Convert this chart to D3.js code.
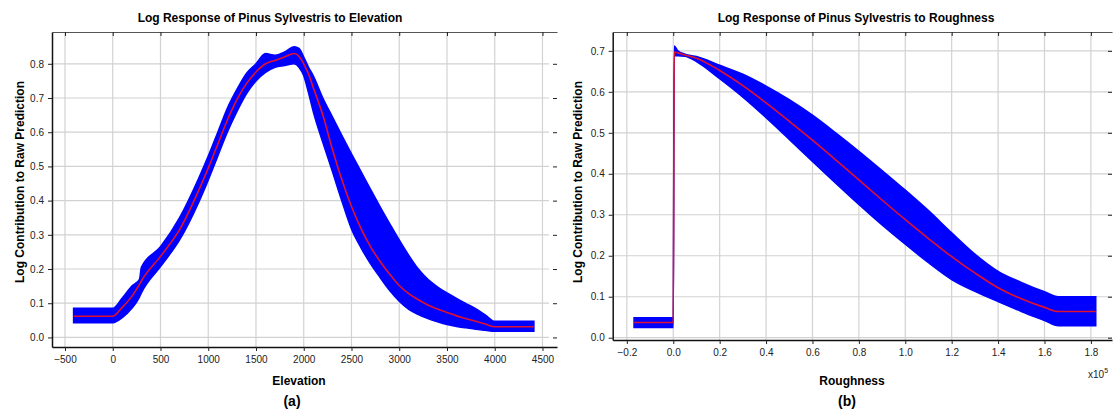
<!DOCTYPE html>
<html>
<head>
<meta charset="utf-8">
<script src="https://cdnjs.cloudflare.com/ajax/libs/d3/7.8.5/d3.min.js"></script>
<style>
  body { margin: 0; background: #fff; }
  svg { font-family: "Liberation Sans", Arial, sans-serif; }
  .tick text { font-size: 10px; fill: #222; }
  .tick line { stroke: #222; }
</style>
</head>
<body>
<svg width="1115" height="410"></svg>
<script>
// ---- panel (a): elevation ----
var elev      = [-410, 0, 100, 200, 280, 300, 500, 700, 900, 1000, 1100, 1200, 1300, 1400, 1500, 1600, 1700, 1800, 1900, 1950, 2000, 2050, 2100, 2200, 2300, 2400, 2500, 2600, 2700, 2800, 2900, 3000, 3100, 3200, 3300, 3400, 3500, 3600, 3700, 3800, 3900, 4000, 4410];
var elevMean  = [0.062, 0.062, 0.088, 0.12, 0.155, 0.165, 0.237, 0.315, 0.43, 0.495, 0.565, 0.635, 0.695, 0.742, 0.776, 0.80, 0.81, 0.82, 0.83, 0.822, 0.80, 0.77, 0.73, 0.65, 0.55, 0.46, 0.383, 0.318, 0.265, 0.222, 0.185, 0.152, 0.128, 0.11, 0.095, 0.083, 0.073, 0.063, 0.055, 0.047, 0.039, 0.031, 0.031];
var elevLow   = [0.043, 0.043, 0.058, 0.085, 0.118, 0.13, 0.207, 0.285, 0.395, 0.46, 0.53, 0.60, 0.66, 0.712, 0.75, 0.775, 0.79, 0.795, 0.80, 0.79, 0.765, 0.715, 0.66, 0.57, 0.485, 0.398, 0.317, 0.262, 0.215, 0.175, 0.137, 0.106, 0.082, 0.067, 0.055, 0.046, 0.038, 0.032, 0.028, 0.024, 0.021, 0.018, 0.018];
var elevHigh  = [0.085, 0.085, 0.115, 0.15, 0.17, 0.205, 0.265, 0.35, 0.465, 0.53, 0.60, 0.67, 0.725, 0.772, 0.80, 0.83, 0.825, 0.835, 0.85, 0.845, 0.82, 0.79, 0.765, 0.70, 0.645, 0.59, 0.537, 0.485, 0.433, 0.382, 0.333, 0.285, 0.24, 0.2, 0.17, 0.148, 0.13, 0.114, 0.099, 0.084, 0.066, 0.047, 0.047];
var elevTicks = [-500, 0, 500, 1000, 1500, 2000, 2500, 3000, 3500, 4000, 4500];
var elevYTicks = [0, 0.1, 0.2, 0.3, 0.4, 0.5, 0.6, 0.7, 0.8];

// ---- panel (b): roughness (x10^5) ----
var rough      = [-0.169, 0, 0.004, 0.02, 0.05, 0.1, 0.2, 0.3, 0.4, 0.5, 0.6, 0.7, 0.8, 0.9, 1.0, 1.1, 1.2, 1.3, 1.4, 1.5, 1.6, 1.66, 1.821];
var roughMean  = [0.037, 0.037, 0.697, 0.695, 0.69, 0.682, 0.652, 0.615, 0.573, 0.528, 0.482, 0.434, 0.385, 0.336, 0.288, 0.242, 0.198, 0.158, 0.122, 0.095, 0.074, 0.064, 0.064];
var roughLow   = [0.025, 0.025, 0.688, 0.688, 0.687, 0.674, 0.632, 0.587, 0.537, 0.484, 0.43, 0.377, 0.325, 0.275, 0.228, 0.183, 0.142, 0.113, 0.088, 0.064, 0.042, 0.029, 0.029];
var roughHigh  = [0.049, 0.049, 0.712, 0.70, 0.692, 0.686, 0.665, 0.643, 0.614, 0.581, 0.543, 0.50, 0.455, 0.408, 0.36, 0.31, 0.256, 0.204, 0.162, 0.135, 0.112, 0.10, 0.10];
var roughTicks = [-0.2, 0, 0.2, 0.4, 0.6, 0.8, 1.0, 1.2, 1.4, 1.6, 1.8];
var roughYTicks = [0, 0.1, 0.2, 0.3, 0.4, 0.5, 0.6, 0.7];

var svg = d3.select("svg");

function panel(p) {
  var x = d3.scaleLinear().domain(p.xDomain).range([p.left, p.right]);
  var y = d3.scaleLinear().domain(p.yDomain).range([p.bottom, p.top]);
  var g = svg.append("g");

  // griglia
  g.selectAll("line.vgrid").data(p.xTicks).enter().append("line")
    .attr("x1", d => x(d)).attr("x2", d => x(d))
    .attr("y1", p.top).attr("y2", p.bottom)
    .style("stroke", "#d2d2d2").style("stroke-width", 1.2);
  g.selectAll("line.hgrid").data(p.yTicks).enter().append("line")
    .attr("x1", p.left).attr("x2", p.gridRight)
    .attr("y1", d => y(d)).attr("y2", d => y(d))
    .style("stroke", "#d2d2d2").style("stroke-width", 1.2);

  // banda blu + media rossa
  var rows = p.xs.map((v, i) => ({x: v, m: p.mean[i], lo: p.low[i], hi: p.high[i]}));
  var area = d3.area().curve(d3.curveMonotoneX)
    .x(d => x(d.x)).y0(d => y(d.lo)).y1(d => y(d.hi));
  g.append("path").datum(rows).attr("d", area)
    .style("fill", "#0000ff").style("stroke", "#0000ff").style("stroke-width", 1.5);
  var line = d3.line().curve(d3.curveMonotoneX).x(d => x(d.x)).y(d => y(d.m));
  g.append("path").datum(rows).attr("d", line)
    .style("fill", "none").style("stroke", "#e0102e").style("stroke-width", 1.6);

  // assi
  var bottomAxis = d3.axisBottom(x).tickValues(p.xTicks).tickFormat(p.xFormat).tickSize(4).tickSizeOuter(0).tickPadding(5);
  var ga = g.append("g").attr("transform", `translate(0,${p.bottom})`).call(bottomAxis);
  ga.select(".domain").style("stroke", "#111").style("stroke-width", 1.5);

  var topAxis = d3.axisBottom(x).tickValues(p.xTicks).tickFormat("").tickSize(4).tickSizeOuter(0);
  var gt = g.append("g").attr("transform", `translate(0,${p.top})`).call(topAxis);
  gt.select(".domain").style("stroke", "#555").style("stroke-width", 1.2);

  var leftAxis = d3.axisLeft(y).tickValues(p.yTicks).tickFormat(d3.format(".1f")).tickSize(4).tickSizeOuter(0).tickPadding(4);
  var gl = g.append("g").attr("transform", `translate(${p.left},0)`).call(leftAxis);
  gl.select(".domain").style("stroke", "#111").style("stroke-width", 1.5);

  var rightAxis = d3.axisLeft(y).tickValues(p.yTicks).tickFormat("").tickSize(4).tickSizeOuter(0);
  var gr = g.append("g").attr("transform", `translate(${p.right},0)`).call(rightAxis);
  gr.select(".domain").style("stroke", "none");

  // testi
  g.append("text").attr("x", p.titleX).attr("y", 22).attr("text-anchor", "middle")
    .style("font-size", "12px").style("font-weight", "bold").text(p.title);
  g.append("text").attr("transform", `translate(${p.yLabelX},${p.yLabelY}) rotate(-90)`)
    .attr("text-anchor", "middle").style("font-size", "12px").style("font-weight", "bold")
    .text("Log Contribution to Raw Prediction");
  g.append("text").attr("x", p.xLabelX).attr("y", p.xLabelY).attr("text-anchor", "middle")
    .style("font-size", "12px").style("font-weight", "bold").text(p.xLabel);
  g.append("text").attr("x", p.tagX).attr("y", 406).attr("text-anchor", "middle")
    .style("font-size", "14px").style("font-weight", "bold").text(p.tag);
  return x;
}

panel({
  xs: elev, mean: elevMean, low: elevLow, high: elevHigh,
  xTicks: elevTicks, yTicks: elevYTicks, xFormat: d3.format("d"),
  xDomain: [-636, 4652], yDomain: [-0.028, 0.893],
  left: 52, right: 557, gridRight: 549, top: 32, bottom: 347,
  title: "Log Response of Pinus Sylvestris to Elevation", titleX: 270,
  yLabelX: 24, yLabelY: 182, xLabel: "Elevation", xLabelX: 299, xLabelY: 385,
  tag: "(a)", tagX: 292
});

panel({
  xs: rough, mean: roughMean, low: roughLow, high: roughHigh,
  xTicks: roughTicks, yTicks: roughYTicks, xFormat: d3.format(".1f"),
  xDomain: [-0.261, 1.891], yDomain: [-0.0056, 0.746],
  left: 612.7, right: 1112, gridRight: 1112, top: 32, bottom: 340,
  title: "Log Response of Pinus Sylvestris to Roughness", titleX: 856,
  yLabelX: 582, yLabelY: 182, xLabel: "Roughness", xLabelX: 852, xLabelY: 385,
  tag: "(b)", tagX: 847
});

// moltiplicatore asse x
var mult = svg.append("text").attr("x", 1088).attr("y", 378).style("font-size", "10px").style("fill", "#222");
mult.append("tspan").text("x10");
mult.append("tspan").attr("dy", -5).style("font-size", "7px").text("5");
</script>
</body>
</html>
